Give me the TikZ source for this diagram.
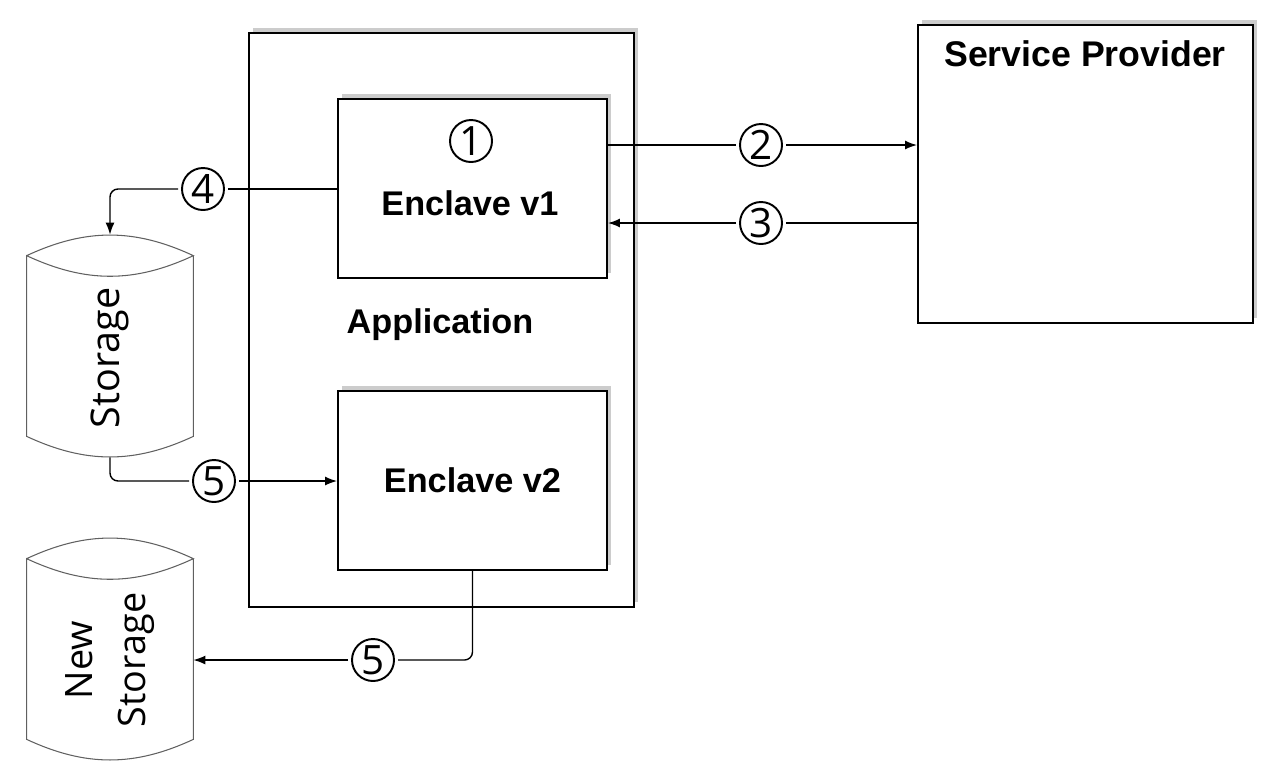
\documentclass[tikz,border=0pt]{standalone}
\usepackage{fontspec}
\setmainfont{Liberation Sans}
\newfontfamily\numfont{Open Sans}
\usetikzlibrary{arrows.meta,shadows,calc}
\newlength\pxu \setlength\pxu{0.02cm}

\tikzset{
  box/.style={draw, fill=white, line width=1.1pt, inner sep=0pt,
    drop shadow={shadow xshift=4\pxu, shadow yshift=5\pxu, fill=gray!40, opacity=1}},
  lbl/.style={font=\fontsize{19.5}{23}\selectfont\bfseries},
  num/.style={circle, draw, line width=1.1pt, minimum size=42\pxu, inner sep=0pt,
    outer sep=4\pxu, font=\numfont\fontsize{23}{24}\selectfont},
  conn/.style={line width=0.8pt},
  arr/.style={conn, -{Latex[length=0.24cm,width=0.18cm]}},
  store/.style={minimum width=166\pxu, minimum height=222\pxu, inner sep=0pt},
  stxt/.style={rotate=90, align=center, font=\numfont\fontsize{21.5}{30}\selectfont},
  cyl/.style={draw=gray!75!black, line width=0.6pt}
}

\begin{document}
\begin{tikzpicture}[x=0.02cm, y=-0.02cm]
\useasboundingbox (0,0) rectangle (1284,769);
% boxes
\node[box, minimum width=385\pxu, minimum height=574\pxu] (app) at (441.5,320) {};
\node[box, minimum width=269\pxu, minimum height=179\pxu] (e1) at (472.5,188.5) {};
\node[box, lbl, minimum width=269\pxu, minimum height=179\pxu] (e2) at (472.5,480.5) {Enclave v2};
\node[box, minimum width=335\pxu, minimum height=298\pxu] (sp) at (1085.5,174) {};
\node[lbl, anchor=base] at (470,215) {Enclave v1};
\node[lbl, anchor=base] at (440,333) {Application};
\node[lbl, anchor=base, font=\fontsize{20.3}{23}\selectfont\bfseries] at (1085,66) {Service Provider};

% storages
\node[store] (st) at (110,346) {};
\node[store] (nst) at (110,649) {};
\foreach \s in {st,nst}{
  \draw[cyl] ($(\s.north west)+(0,21)$) coordinate (tl) to[bend left=25] ($(\s.north east)+(0,21)$) coordinate (tr)
    to[bend left=25] (tl) -- ($(\s.south west)+(0,-21)$) to[bend right=25] ($(\s.south east)+(0,-21)$) -- (tr);
}
\node[stxt, font=\numfont\fontsize{22.5}{30}\selectfont] at (110,358) {Storage};
\node[stxt] at (110,660) {New\\Storage};

% steps
\foreach \nm/\d/\x/\y in {c1/1/471/141, c2/2/761/145, c3/3/761/223, c4/4/203/189, c5/5/214/481, c6/5/373/660}
  \node[num] (\nm) at (\x,\y) {\d};

\draw[conn] (e1.east |- c2) -- (c2);
\draw[arr] (c2) -- (c2 -| sp.west);
\draw[conn] (c3 -| sp.west) -- (c3);
\draw[arr] (c3) -- (c3 -| e1.east);
\draw[conn] (c4 -| e1.west) -- (c4);
\draw[arr, rounded corners=8\pxu] (c4) -| (st.north);
\draw[conn, rounded corners=8\pxu] (st.south) |- (c5);
\draw[arr] (c5) -- (c5 -| e2.west);
\draw[conn, rounded corners=8\pxu] (e2.south) |- (c6);
\draw[arr] (c6) -- (c6 -| nst.east);
\end{tikzpicture}
\end{document}
